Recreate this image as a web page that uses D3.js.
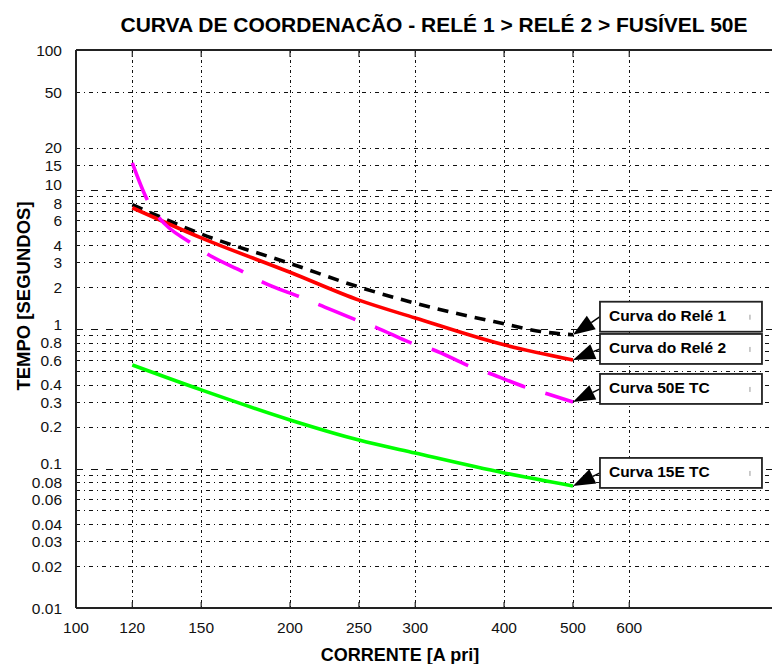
<!DOCTYPE html>
<html>
<head>
<meta charset="utf-8">
<script src="https://cdn.jsdelivr.net/npm/d3@7"></script>
<style>
  body { margin: 0; background: #fff; }
  svg { display: block; }
</style>
</head>
<body>
<div id="chart"></div>
<script>
// axis ticks and grid
const xTicks = [100, 120, 150, 200, 250, 300, 400, 500, 600];
const xGrid = [120, 150, 200, 250, 300, 400, 500, 600];
const yTicks = [100, 50, 20, 15, 10, 8, 6, 4, 3, 2, 1, 0.8, 0.6, 0.4, 0.3, 0.2, 0.1, 0.08, 0.06, 0.04, 0.03, 0.02, 0.01];
const yGridDecade = [10, 1, 0.1];
const yGridMinor = [50, 20, 15, 9, 8, 7, 6, 5, 4, 3, 2,
  0.9, 0.8, 0.7, 0.6, 0.5, 0.4, 0.3, 0.2,
  0.09, 0.08, 0.07, 0.06, 0.05, 0.04, 0.03, 0.02];

// curves (current in A pri, time in s)
const rele1I = [120, 150, 200, 250, 300, 400, 450, 500];
const rele1T = [7.8, 4.8, 2.95, 2.0, 1.53, 1.09, 0.96, 0.91];

const rele2I = [120, 150, 200, 250, 300, 400, 500];
const rele2T = [7.4, 4.5, 2.55, 1.61, 1.2, 0.77, 0.6];

const fus50I = [120, 126, 131, 145, 153, 172, 183, 207, 220, 248, 265, 297, 318, 358, 382, 432, 461, 500];
const fus50T = [15.5, 8.4, 6.25, 4.14, 3.45, 2.56, 2.17, 1.69, 1.49, 1.16, 1.02, 0.79, 0.71, 0.54, 0.48, 0.378, 0.342, 0.3];

const fus15I = [120, 150, 200, 250, 300, 400, 500];
const fus15T = [0.552, 0.366, 0.223, 0.16, 0.129, 0.093, 0.075];

const curveNames = ['Curva do Relé 1', 'Curva do Relé 2', 'Curva 50E TC', 'Curva 15E TC'];

const W = 772, H = 664;
const svg = d3.select('#chart').append('svg')
  .attr('width', W)
  .attr('height', H)
  .style('font-family', '"Liberation Sans", Arial, sans-serif');

const x = d3.scaleLog().domain([100, 1000]).range([76, 787]);
const y = d3.scaleLog().domain([0.01, 100]).range([608, 50]);
const pLeft = x(100), pRight = W, pTop = y(100), pBottom = y(0.01);

// grid
const grid = svg.append('g').attr('stroke', '#111').attr('stroke-width', 1).attr('fill', 'none');
grid.selectAll('.gx').data(xGrid).join('line')
  .attr('x1', d => Math.round(x(d)) + 0.5).attr('x2', d => Math.round(x(d)) + 0.5)
  .attr('y1', pTop).attr('y2', pBottom)
  .attr('stroke-dasharray', '3,3,1,3');
grid.selectAll('.gm').data(yGridMinor).join('line')
  .attr('x1', pLeft).attr('x2', pRight)
  .attr('y1', d => Math.round(y(d)) + 0.5).attr('y2', d => Math.round(y(d)) + 0.5)
  .attr('stroke-dasharray', '4,4,1,4');
grid.selectAll('.gd').data(yGridDecade).join('line')
  .attr('x1', pLeft).attr('x2', pRight)
  .attr('y1', d => Math.round(y(d)) + 0.5).attr('y2', d => Math.round(y(d)) + 0.5)
  .attr('stroke-dasharray', '7,8');

// axes frame
const frame = svg.append('g').attr('stroke', '#222').attr('stroke-width', 2);
frame.append('line').attr('x1', pLeft).attr('x2', pLeft).attr('y1', pTop).attr('y2', pBottom);
frame.append('line').attr('x1', pLeft).attr('x2', pRight).attr('y1', pBottom).attr('y2', pBottom);
frame.append('line').attr('x1', pLeft).attr('x2', pRight).attr('y1', pTop).attr('y2', pTop);
frame.selectAll('.tb').data(xGrid).join('line')
  .attr('stroke-width', 1.2)
  .attr('x1', d => x(d)).attr('x2', d => x(d))
  .attr('y1', pBottom).attr('y2', pBottom - 6);
frame.selectAll('.tt').data(xGrid).join('line')
  .attr('stroke-width', 1.2)
  .attr('x1', d => x(d)).attr('x2', d => x(d))
  .attr('y1', pTop).attr('y2', pTop + 7);

// tick labels
const tickFont = '"Liberation Sans Narrow", "Liberation Sans", Arial, sans-serif';
svg.append('g').selectAll('text').data(xTicks).join('text')
  .attr('x', d => x(d)).attr('y', 633)
  .attr('text-anchor', 'middle')
  .style('font-family', tickFont).style('font-size', '15.5px').attr('fill', '#111')
  .text(d => d);
svg.append('g').selectAll('text').data(yTicks).join('text')
  .attr('x', 62)
  .attr('y', d => y(d) - (yGridDecade.includes(d) ? 5 : 0))
  .attr('dy', '0.36em')
  .attr('text-anchor', 'end')
  .style('font-family', tickFont).style('font-size', '15.5px').attr('fill', '#111')
  .text(d => d);

// curves
const line = d3.line().x(d => x(d[0])).y(d => y(d[1])).curve(d3.curveMonotoneX);
const series = [
  {I: rele1I, T: rele1T, color: '#000', dash: '11,8'},
  {I: rele2I, T: rele2T, color: '#ff0000', dash: null},
  {I: fus50I, T: fus50T, color: '#ff00ff', dash: '40,21'},
  {I: fus15I, T: fus15T, color: '#00ff00', dash: null}
];
const boxDy = [-33, -26, -28, -28];

svg.append('g').selectAll('path').data(series).join('path')
  .attr('d', s => line(d3.zip(s.I, s.T)))
  .attr('fill', 'none')
  .attr('stroke', s => s.color)
  .attr('stroke-width', 3.6)
  .attr('stroke-dasharray', s => s.dash);

// text arrows
const ann = svg.append('g');
series.forEach((s, i) => {
  const tx = x(s.I[s.I.length - 1]), ty = y(s.T[s.T.length - 1]);
  const bx = tx + 27, by = ty + boxDy[i], bw = 162, bh = 30;
  const ex = bx, ey = by + bh / 2;
  const dx = ex - tx, dy = ey - ty, len = Math.hypot(dx, dy);
  const ux = dx / len, uy = dy / len, hl = 22, hw = 8;
  const cx = tx + ux * hl, cy = ty + uy * hl;
  ann.append('line')
    .attr('x1', cx).attr('y1', cy).attr('x2', ex).attr('y2', ey)
    .attr('stroke', '#000').attr('stroke-width', 1.5);
  ann.append('path')
    .attr('d', `M${tx},${ty}L${cx - uy * hw},${cy + ux * hw}L${cx + uy * hw},${cy - ux * hw}Z`)
    .attr('fill', '#000');
  ann.append('rect')
    .attr('x', bx).attr('y', by).attr('width', bw).attr('height', bh)
    .attr('fill', '#fff').attr('stroke', '#222').attr('stroke-width', 1.8);
  ann.append('line')
    .attr('x1', bx + bw - 12).attr('x2', bx + bw - 12)
    .attr('y1', by + 13).attr('y2', by + 18)
    .attr('stroke', '#999').attr('stroke-width', 1);
  ann.append('text')
    .attr('x', bx + 9).attr('y', by + 19)
    .style('font-size', '15.5px').style('font-weight', 'bold')
    .text(curveNames[i]);
});

// titles
svg.append('text')
  .attr('x', 434).attr('y', 32)
  .attr('text-anchor', 'middle')
  .style('font-size', '21px').style('font-weight', 'bold')
  .text('CURVA DE COORDENACÃO - RELÉ 1 > RELÉ 2 > FUSÍVEL 50E');
svg.append('text')
  .attr('x', 400).attr('y', 661)
  .attr('text-anchor', 'middle')
  .style('font-size', '18px').style('font-weight', 'bold')
  .text('CORRENTE [A pri]');
svg.append('text')
  .attr('transform', 'translate(30,296) rotate(-90)')
  .attr('text-anchor', 'middle')
  .style('font-size', '18.5px').style('font-weight', 'bold')
  .text('TEMPO [SEGUNDOS]');
</script>
</body>
</html>
